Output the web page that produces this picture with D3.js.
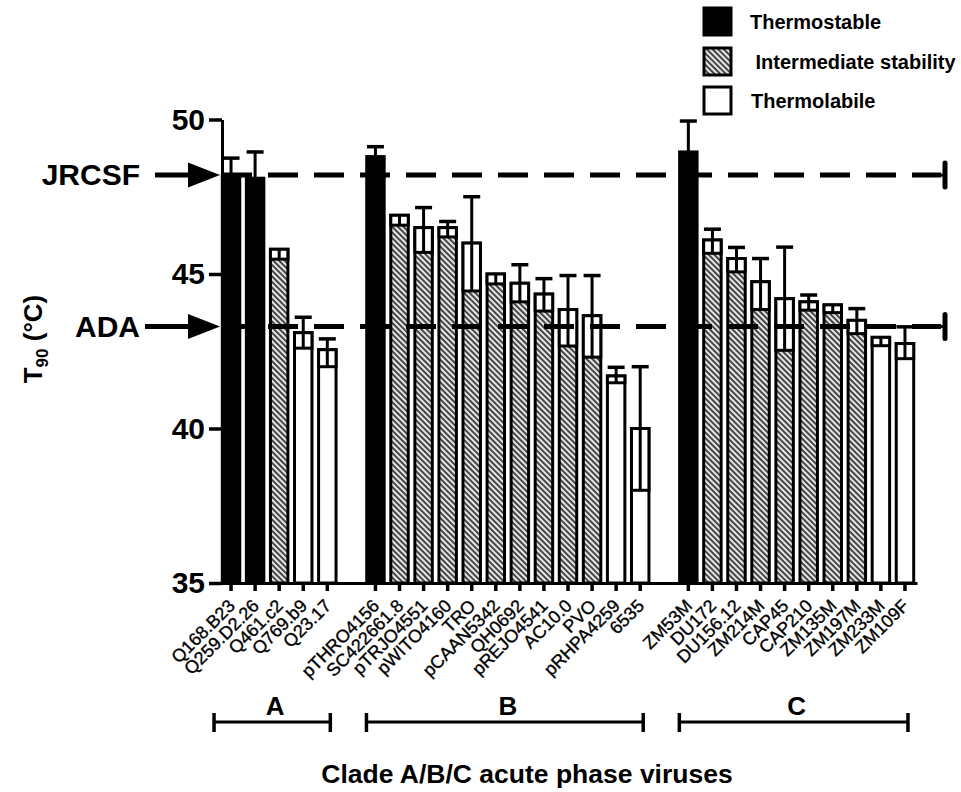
<!DOCTYPE html>
<html>
<head>
<meta charset="utf-8">
<script src="https://cdn.jsdelivr.net/npm/d3@7/dist/d3.min.js"></script>
<style>
  html, body { margin: 0; padding: 0; background: #fff; }
  svg { display: block; font-family: "Liberation Sans", Arial, Helvetica, sans-serif; }
</style>
</head>
<body>
<svg id="chart" width="961" height="792"></svg>
<script>
// ---------------- data ----------------
const viruses = ["Q168.B23","Q259.D2.26","Q461.c2","Q769.b9","Q23.17",
  "pTHRO4156","SC422661.8","pTRJO4551","pWITO4160","TRO","pCAAN5342","QH0692","pREJO4541","AC10.0","PVO","pRHPA4259","6535",
  "ZM53M","DU172","DU156.12","ZM214M","CAP45","CAP210","ZM135M","ZM197M","ZM233M","ZM109F"];
const clades = ["A","A","A","A","A",
  "B","B","B","B","B","B","B","B","B","B","B","B",
  "C","C","C","C","C","C","C","C","C","C"];
const t90 = [48.2,48.1,45.8,43.1,42.55,
  48.8,46.9,46.5,46.5,46.0,45.0,44.7,44.35,43.85,43.65,41.7,40.0,
  48.95,46.1,45.5,44.75,44.2,44.1,44.0,43.5,42.95,42.75];
const errUp = [0.55,0.85,0,0.5,0.35,
  0.32,0,0.65,0.2,1.5,0,0.6,0.5,1.1,1.3,0.28,2.0,
  1.0,0.35,0.36,0.75,1.67,0.22,0,0.38,0,0.54];
const errLow = [0.55,0.85,0.32,0.5,0.55,
  0.32,0.32,0.8,0.3,1.55,0.32,0.6,0.55,1.18,1.34,0.22,2.0,
  1.0,0.43,0.43,0.9,1.67,0.27,0.25,0.43,0.27,0.49];
const stability = ["T","T","I","L","L",
  "T","I","I","I","I","I","I","I","I","I","L","L",
  "T","I","I","I","I","I","I","I","L","L"];
const stabilityKeys = ["T","I","L"];
const stabilityLabels = ["Thermostable"," Intermediate stability","Thermolabile"];
const refNames = ["JRCSF","ADA"];
const refValues = [48.2,43.3];
const yTicks = [35,40,45,50];
const cladeNames = ["A","B","C"];
const xTitle = "Clade A/B/C acute phase viruses";

// ---------------- setup ----------------
const svg = d3.select("#chart");
const defs = svg.append("defs");
const pat = defs.append("pattern").attr("id","hatch")
  .attr("patternUnits","userSpaceOnUse").attr("width",4).attr("height",4)
  .attr("patternTransform","rotate(-45)");
pat.append("rect").attr("width",4).attr("height",4).attr("fill","#e6e6e6");
pat.append("line").attr("x1",1).attr("y1",0).attr("x2",1).attr("y2",4)
  .attr("stroke","#2a2a2a").attr("stroke-width",1.7);

const fillFor = {T:"#000", I:"url(#hatch)", L:"#fff"};

// slots with gaps between clades
const slots = [];
cladeNames.forEach((c, ci) => {
  if (ci > 0) slots.push("gap" + ci);
  viruses.forEach((v, i) => { if (clades[i] === c) slots.push(v); });
});

const x = d3.scaleBand().domain(slots).range([219, 917]).paddingInner(0.15).paddingOuter(0.075);
const y = d3.scaleLinear().domain([35, 50]).range([583, 119.5]);
const bw = x.bandwidth();
const cx = v => x(v) + bw / 2;

const data = viruses.map((v, i) => ({name: v, clade: clades[i], value: t90[i], up: errUp[i], low: errLow[i], s: stability[i]}));

// ---------------- bars ----------------
const gBars = svg.append("g");
gBars.selectAll("rect.bar").data(data).enter().append("rect")
  .attr("class","bar")
  .attr("x", d => x(d.name) + 1.5)
  .attr("width", bw - 3)
  .attr("y", d => y(d.value))
  .attr("height", d => y(35) - y(d.value))
  .attr("fill", d => fillFor[d.s])
  .attr("stroke", "#000").attr("stroke-width", 3);

// lower error part (inside bar)
const lowData = data.filter(d => d.s !== "T" && d.low > 0);
gBars.selectAll("rect.low").data(lowData).enter().append("rect")
  .attr("x", d => x(d.name) + 1.5)
  .attr("width", bw - 3)
  .attr("y", d => y(d.value))
  .attr("height", d => y(d.value - d.low) - y(d.value))
  .attr("fill", "#fff").attr("stroke", "#000").attr("stroke-width", 3);
gBars.selectAll("line.lowc").data(lowData).enter().append("line")
  .attr("x1", d => cx(d.name)).attr("x2", d => cx(d.name))
  .attr("y1", d => y(d.value)).attr("y2", d => y(d.value - d.low))
  .attr("stroke", "#000").attr("stroke-width", 3);

// upper error bars
const upData = data.filter(d => d.up > 0);
gBars.selectAll("line.up").data(upData).enter().append("line")
  .attr("x1", d => cx(d.name)).attr("x2", d => cx(d.name))
  .attr("y1", d => y(d.value)).attr("y2", d => y(d.value + d.up))
  .attr("stroke", "#000").attr("stroke-width", 3);
gBars.selectAll("line.cap").data(upData).enter().append("line")
  .attr("x1", d => cx(d.name) - 8.5).attr("x2", d => cx(d.name) + 8.5)
  .attr("y1", d => y(d.value + d.up)).attr("y2", d => y(d.value + d.up))
  .attr("stroke", "#000").attr("stroke-width", 3.5);

// ---------------- axes ----------------
const yAxis = svg.append("g").attr("transform","translate(222,0)")
  .call(d3.axisLeft(y).tickValues(yTicks).tickSize(13).tickSizeOuter(0).tickPadding(4).tickFormat(d3.format("d")));
yAxis.select(".domain").attr("stroke-width", 3);
yAxis.selectAll(".tick line").attr("stroke-width", 3.5);
yAxis.selectAll(".tick text").attr("font-size", 30).attr("font-weight","bold").attr("fill","#000")
  .attr("font-family","'Liberation Sans', Arial, sans-serif");

const xAxis = svg.append("g").attr("transform","translate(0,583)")
  .call(d3.axisBottom(x).tickValues(viruses).tickSize(8).tickSizeOuter(0).tickFormat(""));
xAxis.select(".domain").attr("stroke-width", 3);
xAxis.selectAll(".tick line").attr("stroke-width", 3.5);

// rotated labels
svg.append("g").selectAll("text").data(viruses).enter().append("text")
  .attr("transform", v => `translate(${cx(v) + 5},${607}) rotate(-45)`)
  .attr("text-anchor","end")
  .attr("font-size", 18)
  .attr("fill","#000").attr("stroke","#000").attr("stroke-width",0.35)
  .text(v => v);

// y-axis title
const yt = svg.append("text")
  .attr("transform","translate(42,339) rotate(-90)")
  .attr("text-anchor","middle")
  .attr("font-size", 26).attr("font-weight","bold");
yt.append("tspan").text("T");
yt.append("tspan").attr("font-size",17).attr("dy",6).text("90");
yt.append("tspan").attr("dy",-6).text(" (°C)");

// ---------------- reference lines ----------------
const gRef = svg.append("g");
refNames.forEach((n, i) => {
  const yy = y(refValues[i]);
  gRef.append("line").attr("x1",222).attr("x2",941).attr("y1",yy).attr("y2",yy)
    .attr("stroke","#000").attr("stroke-width",5).attr("stroke-dasharray","30,16");
  gRef.append("line").attr("x1",945).attr("x2",945).attr("y1",yy-12).attr("y2",yy+12)
    .attr("stroke","#000").attr("stroke-width",5).attr("stroke-linecap","round");
  gRef.append("line").attr("x1",938).attr("x2",945).attr("y1",yy).attr("y2",yy)
    .attr("stroke","#000").attr("stroke-width",3);
  // arrow
  const textRight = 140;
  gRef.append("line").attr("x1", n === "ADA" ? 145 : 155).attr("x2",192).attr("y1",yy).attr("y2",yy)
    .attr("stroke","#000").attr("stroke-width",5);
  gRef.append("path").attr("d", `M188,${yy-12.5} L220,${yy} L188,${yy+12.5} Z`).attr("fill","#000");
  gRef.append("text").attr("x", textRight).attr("y", yy + 10)
    .attr("text-anchor","end").attr("font-size",30).attr("font-weight","bold").text(n);
});

// ---------------- clade brackets ----------------
const gBr = svg.append("g");
cladeNames.forEach(c => {
  const members = viruses.filter((v, i) => clades[i] === c);
  const x0 = cx(members[0]) - (c === "A" ? 17 : 9);
  const x1 = cx(members[members.length - 1]) + 3;
  const by = 722;
  gBr.append("line").attr("x1",x0).attr("x2",x1).attr("y1",by).attr("y2",by).attr("stroke","#000").attr("stroke-width",3);
  [x0, x1].forEach(xx => gBr.append("line").attr("x1",xx).attr("x2",xx).attr("y1",by-9).attr("y2",by+10)
    .attr("stroke","#000").attr("stroke-width",3.5));
  gBr.append("text").attr("x",(x0 + x1) / 2 + 3).attr("y",by - 7).attr("text-anchor","middle")
    .attr("font-size",26).attr("font-weight","bold").text(c);
});
svg.append("text").attr("x",527).attr("y",783).attr("text-anchor","middle")
  .attr("font-size",26.5).attr("font-weight","bold").text(xTitle);

// ---------------- legend ----------------
const legY = [7, 47, 86];
const legTX = [750, 750, 751];
const gLeg = svg.append("g");
stabilityKeys.forEach((k, i) => {
  gLeg.append("rect").attr("x",704).attr("y",legY[i] + 1).attr("width",27).attr("height",27)
    .attr("fill", fillFor[k]).attr("stroke","#000").attr("stroke-width",3);
  gLeg.append("text").attr("x",legTX[i]).attr("y",legY[i] + 22).attr("font-size",20).attr("font-weight","bold")
    .attr("xml:space","preserve").style("white-space","pre").text(stabilityLabels[i]);
});
</script>
</body>
</html>
